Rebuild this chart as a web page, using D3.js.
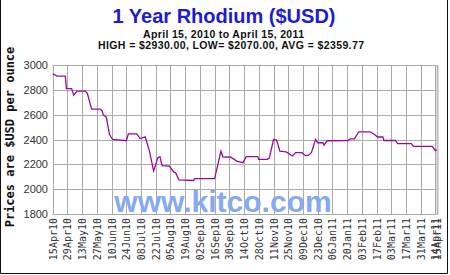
<!DOCTYPE html>
<html>
<head>
<meta charset="utf-8">
<script src="https://cdn.jsdelivr.net/npm/d3@7"></script>
<style>
  body { margin: 0; background: #fff; }
  svg { display: block; }
</style>
</head>
<body>
<div class="chart"></div>
<script>
// values
const dates = [
  '2010-04-15','2010-04-19','2010-04-27','2010-04-28','2010-05-03','2010-05-05','2010-05-08',
  '2010-05-16','2010-05-18','2010-05-22','2010-05-30','2010-06-01','2010-06-02','2010-06-05',
  '2010-06-08','2010-06-11','2010-06-24','2010-06-26','2010-07-04','2010-07-07','2010-07-12',
  '2010-07-16','2010-07-20','2010-07-24','2010-07-26','2010-07-28','2010-08-04','2010-08-08',
  '2010-08-10','2010-08-13','2010-08-27','2010-08-28','2010-09-16','2010-09-22','2010-09-24',
  '2010-10-01','2010-10-07','2010-10-13','2010-10-16','2010-10-27','2010-10-28','2010-11-05',
  '2010-11-07','2010-11-11','2010-11-14','2010-11-17','2010-11-23','2010-11-29','2010-12-02',
  '2010-12-08','2010-12-11','2010-12-14','2010-12-17','2010-12-21','2010-12-23','2010-12-28',
  '2010-12-29','2011-01-01','2011-01-21','2011-01-23','2011-01-27','2011-01-31','2011-02-11',
  '2011-02-15','2011-02-18','2011-02-23','2011-02-24','2011-03-07','2011-03-09','2011-03-22',
  '2011-03-24','2011-04-11','2011-04-14','2011-04-15'
]
const prices = [
  2930, 2910, 2910, 2810, 2810, 2757, 2790,
  2790, 2770, 2645, 2645, 2630, 2600, 2580,
  2440, 2400, 2390, 2445, 2445, 2408, 2421,
  2306, 2146, 2254, 2262, 2190, 2185, 2139,
  2130, 2075, 2070, 2085, 2085, 2306, 2258,
  2260, 2226, 2213, 2262, 2262, 2240, 2240,
  2250, 2400, 2395, 2306, 2300, 2267, 2294,
  2294, 2272, 2272, 2294, 2400, 2374, 2374,
  2355, 2390, 2392, 2405, 2405, 2462, 2462,
  2440, 2420, 2420, 2392, 2392, 2366, 2366,
  2344, 2344, 2310, 2318
]
const tickLabels = [
  '15Apr10','29Apr10','13May10','27May10','10Jun10','24Jun10','08Jul10','22Jul10',
  '05Aug10','19Aug10','02Sep10','16Sep10','30Sep10','14Oct10','28Oct10','11Nov10',
  '25Nov10','09Dec10','23Dec10','06Jan11','20Jan11','03Feb11','17Feb11','03Mar11',
  '17Mar11','31Mar11','14Apr11','15Apr11'
]
const yTicks = [1800, 2000, 2200, 2400, 2600, 2800, 3000]

const parseDay = d3.utcParse('%Y-%m-%d')
const parseTick = d3.utcParse('%d%b%y')
const data = dates.map((d, i) => ({ date: parseDay(d), price: prices[i] }))

const width = 450, height = 275
const svg = d3.select('.chart').append('svg')
  .attr('width', width)
  .attr('height', height)

const x = d3.scaleUtc()
  .domain([parseDay('2010-04-15'), parseDay('2011-04-15')])
  .range([52.7, 436.5])
const y = d3.scaleLinear()
  .domain([1800, 3000])
  .range([214, 65])

// outer frame (no top edge in the original)
svg.append('path')
  .attr('d', 'M0.5,0V273.5H447.5V0')
  .attr('fill', 'none')
  .attr('stroke', '#111')

// titles
svg.append('text')
  .attr('x', 224).attr('y', 23)
  .attr('text-anchor', 'middle')
  .style('font', 'bold 20px "Liberation Sans", Arial, sans-serif')
  .attr('fill', '#1c1cd0')
  .text('1 Year Rhodium ($USD)')
svg.append('text')
  .attr('x', 143).attr('y', 37.5)
  .attr('textLength', 161)
  .attr('lengthAdjust', 'spacing')
  .style('font', 'bold 10.5px "Liberation Sans", Arial, sans-serif')
  .attr('fill', '#111')
  .text('April 15, 2010 to April 15, 2011')
svg.append('text')
  .attr('x', 98).attr('y', 49)
  .attr('textLength', 266)
  .attr('lengthAdjust', 'spacing')
  .style('font', 'bold 10.5px "Liberation Sans", Arial, sans-serif')
  .attr('fill', '#111')
  .text('HIGH = $2930.00, LOW= $2070.00, AVG = $2359.77')

// grid
const tickDates = tickLabels.map(parseTick)
svg.append('g')
  .selectAll('line')
  .data(tickDates)
  .join('line')
  .attr('x1', d => Math.round(x(d)) + 0.5)
  .attr('x2', d => Math.round(x(d)) + 0.5)
  .attr('y1', y(3000)).attr('y2', y(1800))
  .attr('stroke', '#aaa')

svg.append('g')
  .selectAll('line')
  .data(yTicks)
  .join('line')
  .attr('x1', x.range()[0]).attr('x2', x.range()[1])
  .attr('y1', d => Math.round(y(d)) + 0.5)
  .attr('y2', d => Math.round(y(d)) + 0.5)
  .attr('stroke', '#aaa')

svg.append('line')
  .attr('x1', 437.5).attr('x2', 437.5)
  .attr('y1', y(3000)).attr('y2', y(1800) + 1)
  .attr('stroke', '#bbb')
  .attr('stroke-width', 2)

// watermark
svg.append('text')
  .attr('x', 223).attr('y', 212)
  .attr('text-anchor', 'middle')
  .style('font', 'bold 30px "Liberation Sans", Arial, sans-serif')
  .attr('fill', '#86a9f0')
  .text('www.kitco.com')

// y labels
svg.append('g')
  .selectAll('text')
  .data(yTicks)
  .join('text')
  .attr('x', 48)
  .attr('y', d => y(d) + 4)
  .attr('text-anchor', 'end')
  .style('font', '11px "Liberation Sans", Arial, sans-serif')
  .attr('fill', '#333')
  .text(d => d)

// x labels, rotated
svg.append('g')
  .selectAll('text')
  .data(tickDates)
  .join('text')
  .attr('transform', d => `translate(${x(d) + 4},218) rotate(-90)`)
  .attr('text-anchor', 'end')
  .style('font', '10px "DejaVu Sans Mono", monospace')
  .attr('fill', '#333')
  .text((d, i) => tickLabels[i])

svg.append('text')
  .attr('transform', 'translate(14,137) rotate(-90)')
  .attr('text-anchor', 'middle')
  .style('font', 'bold 12px "DejaVu Sans Mono", monospace')
  .attr('fill', '#111')
  .text('Prices are $USD per ounce')

// price line
const line = d3.line()
  .x(d => x(d.date))
  .y(d => y(d.price))

svg.append('path')
  .datum(data)
  .attr('d', line)
  .attr('fill', 'none')
  .attr('stroke', '#9a0a9a')
  .attr('stroke-width', 1.3)
</script>
</body>
</html>
